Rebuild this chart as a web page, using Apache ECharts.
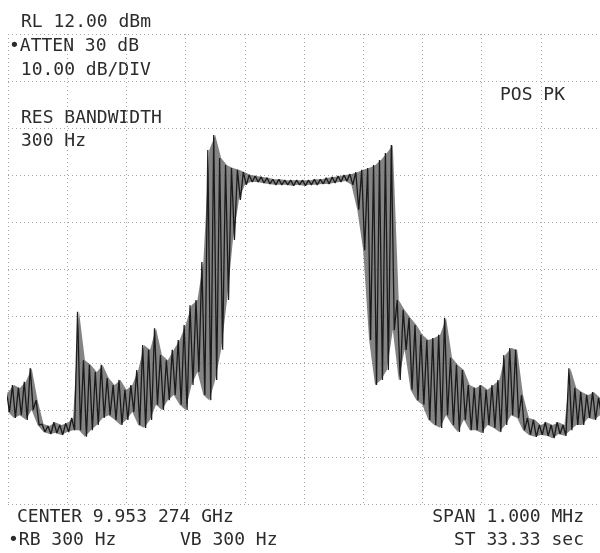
<!DOCTYPE html>
<html>
<head>
<meta charset="utf-8">
<script src="https://cdn.jsdelivr.net/npm/echarts@6/dist/echarts.min.js"></script>
<style>html,body{margin:0;padding:0;background:#fff}#c{width:600px;height:553px}</style>
</head>
<body>
<div id="c"></div>
<script>
// Frequency offsets from center (kHz), 10 kHz steps across the 1 MHz span
const freqStartKHz = -500;
const freqStepKHz = 10;
// Upper envelope of the peak-detected trace (dBm)
const traceHigh = [
  -64.2,-62.7,-63.3,-62.0,-59.1,-65.9,-71.0,-71.4,-70.6,-71.2,
  -70.8,-69.7,-47.1,-57.4,-58.4,-59.9,-58.4,-61.2,-62.7,-61.6,
  -63.7,-62.7,-59.5,-54.2,-55.2,-50.6,-56.3,-57.4,-55.2,-53.1,
  -49.9,-45.7,-44.6,-36.5,-12.7,-9.5,-14.4,-15.9,-16.5,-16.9,
  -17.4,-18.0,-18.2,-18.4,-18.6,-18.9,-18.9,-19.1,-19.1,-19.1,
  -19.1,-19.1,-18.9,-18.9,-18.6,-18.4,-18.2,-18.0,-17.8,-17.4,
  -16.9,-16.5,-15.9,-14.8,-13.3,-11.6,-44.6,-46.7,-48.4,-49.9,
  -52.0,-53.1,-52.7,-52.0,-48.4,-56.9,-58.4,-59.5,-62.7,-63.3,
  -62.7,-63.7,-62.7,-61.6,-56.3,-54.8,-55.2,-64.8,-69.7,-70.1,
  -71.2,-70.6,-71.2,-70.6,-71.2,-59.1,-63.3,-64.2,-64.8,-64.2,
  -65.4
];
// Lower envelope of the trace (dBm)
const traceLow = [
  -68.4,-69.7,-69.1,-70.1,-68.0,-71.2,-72.7,-73.1,-72.9,-73.3,
  -72.7,-72.3,-72.3,-73.7,-72.3,-71.2,-69.7,-69.1,-70.1,-71.2,
  -70.1,-68.4,-71.2,-71.8,-70.1,-66.9,-68.0,-65.9,-64.8,-66.9,
  -68.0,-62.7,-59.9,-64.8,-65.9,-61.6,-55.2,-44.6,-31.8,-23.3,
  -20.1,-19.5,-19.5,-19.7,-19.9,-20.1,-20.1,-20.1,-20.3,-20.1,
  -20.3,-20.1,-20.1,-19.9,-19.9,-19.7,-19.5,-19.3,-20.1,-25.4,
  -34.0,-53.1,-62.7,-61.6,-59.5,-51.0,-61.6,-55.2,-63.7,-65.9,
  -66.9,-70.1,-71.2,-71.8,-69.1,-71.2,-72.7,-70.1,-72.3,-72.3,
  -72.9,-71.2,-71.8,-72.7,-71.2,-69.1,-69.7,-72.3,-73.3,-73.7,
  -73.3,-73.5,-74.0,-73.1,-73.5,-72.3,-71.2,-71.2,-69.7,-70.1,
  -69.1
];
// Screen annotations
const topLeftLines = ["RL 12.00 dBm", "\u2022ATTEN 30 dB", " 10.00 dB/DIV"];
const resLines = ["RES BANDWIDTH", "300 Hz"];
const detectorText = "POS PK";
const bottomLeft = ["CENTER 9.953 274 GHz", "\u2022RB 300 Hz"];
const videoBW = "VB 300 Hz";
const bottomRight = ["SPAN 1.000 MHz", "ST 33.33 sec"];
const refLevel = 12, dbPerDiv = 10, divisions = 10;

const freqs = traceHigh.map((_, i) => freqStartKHz + i * freqStepKHz);
// zig-zag trace built from the two envelopes
const traceData = [];
for (let i = 0; i < traceHigh.length; i++) {
  traceData.push([freqs[i] - freqStepKHz / 4, traceHigh[i]]);
  traceData.push([freqs[i] + freqStepKHz / 4, traceLow[i]]);
}

const font = '"DejaVu Sans Mono", monospace';
const txtColor = '#2c2c2c';
function txt(s, x, y, align) {
  return { type: 'text', left: align === 'right' ? undefined : x, right: align === 'right' ? x : undefined, top: y,
    style: { text: s, font: '18px ' + font, fill: txtColor } };
}

const chart = echarts.init(document.getElementById('c'), null, { renderer: 'canvas' });
const gridLine = { show: true, lineStyle: { color: '#a8a8a8', type: [1, 3], width: 1 } };
chart.setOption({
  animation: false,
  backgroundColor: '#fff',
  grid: { left: 8, right: 0, top: 34, bottom: 49 },
  xAxis: [{
    type: 'value', min: -500, max: 500, interval: 100,
    axisLine: { show: false }, axisTick: { show: false }, axisLabel: { show: false },
    splitLine: gridLine
  }],
  yAxis: [{
    type: 'value', min: refLevel - dbPerDiv * divisions, max: refLevel,
    axisLine: { show: false }, axisTick: { show: false }, axisLabel: { show: false },
    splitLine: { show: false }
  }, {
    type: 'value', min: 0, max: divisions, interval: 1,
    axisLine: { show: false }, axisTick: { show: false }, axisLabel: { show: false },
    splitLine: gridLine
  }],
  series: [{
    type: 'custom', yAxisIndex: 0, data: [0], silent: true,
    renderItem: function (params, api) {
      const pts = [];
      for (let i = 0; i < freqs.length; i++) pts.push(api.coord([freqs[i], traceHigh[i]]));
      for (let i = freqs.length - 1; i >= 0; i--) pts.push(api.coord([freqs[i], traceLow[i]]));
      return { type: 'polygon', shape: { points: pts }, style: { fill: '#555555', opacity: 0.72 } };
    }
  }, {
    type: 'line', yAxisIndex: 0, data: traceData, symbol: 'none',
    lineStyle: { color: '#141414', width: 1.3, opacity: 0.95 }
  }],
  graphic: [
    txt(topLeftLines[0], 21, 13),
    txt(topLeftLines[1], 9, 37),
    txt(topLeftLines[2], 10, 61),
    txt(resLines[0], 21, 109),
    txt(resLines[1], 21, 132),
    txt(detectorText, 500, 86),
    txt(bottomLeft[0], 17, 508),
    txt(bottomLeft[1], 8, 531),
    txt(videoBW, 180, 531),
    txt(bottomRight[0], 16, 508, 'right'),
    txt(bottomRight[1], 16, 531, 'right')
  ]
});
</script>
</body>
</html>
